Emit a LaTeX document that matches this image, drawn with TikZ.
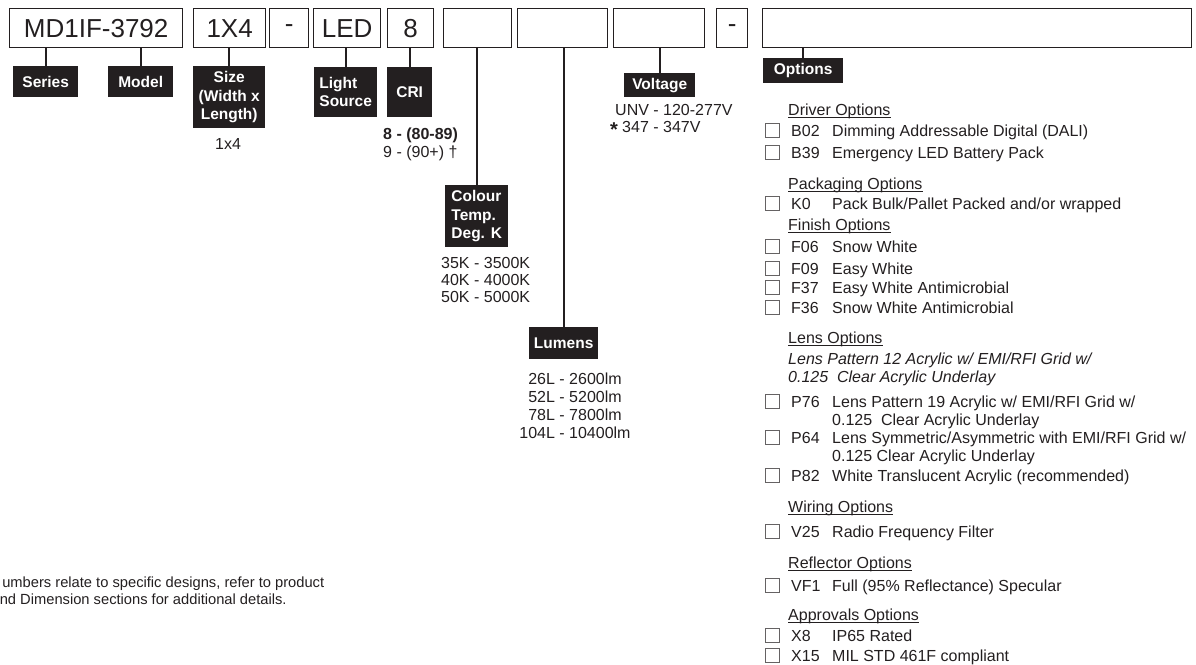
\documentclass[tikz,border=0pt]{standalone}
\usepackage{fontspec}
\setmainfont{Liberation Sans}
\definecolor{ink}{HTML}{231F20}
\tikzset{
  codebox/.style={draw=ink, line width=1.3pt, anchor=north west, inner sep=0pt, text=ink, font=\fontsize{26}{28}\selectfont},
  tag/.style={fill=ink, text=white, anchor=north west, inner sep=0pt, font=\fontsize{15.5}{18.5}\selectfont\bfseries},
  conn/.style={draw=ink, line width=1.8pt},
  txt/.style={anchor=base west, inner sep=0pt, text=ink, font=\fontsize{16}{18}\selectfont},
  ctxt/.style={anchor=base, inner sep=0pt, text=ink, font=\fontsize{16}{18}\selectfont},
  chk/.style={draw=ink!70, line width=1pt, minimum size=14pt, inner sep=0pt},
  uline/.style={draw=ink, line width=0.9pt},
}
\newcommand\optrow[4]{%
  \node[chk] (cb#1) at (772,#2) {};
  \node[txt] (code#1) at (791,#2+6) {#3};
  \node[txt] (desc#1) at (832,#2+6) {#4};
}
\newcommand\opthead[3]{%
  \node[txt] (#1) at (788,#2+6) {#3};
  \draw[uline] ([yshift=-2pt]#1.base west) -- ([yshift=-2pt]#1.base east);
}
\begin{document}
\begin{tikzpicture}[x=1pt,y=-1pt]
\useasboundingbox (0,0) rectangle (1196,664);

% code boxes
\node[codebox, minimum width=173pt, minimum height=39pt] (b1) at (9,8) {MD1IF-3792};
\node[codebox, minimum width=72pt,  minimum height=39pt] (b2) at (193,8) {1X4};
\node[codebox, minimum width=39pt,  minimum height=39pt] (b3) at (269,8) {-};
\node[codebox, minimum width=67pt,  minimum height=39pt] (b4) at (313,8) {LED};
\node[codebox, minimum width=46pt,  minimum height=39pt] (b5) at (387,8) {8};
\node[codebox, minimum width=68pt,  minimum height=39pt] (b6) at (443,8) {};
\node[codebox, minimum width=90pt,  minimum height=39pt] (b7) at (517,8) {};
\node[codebox, minimum width=91pt,  minimum height=39pt] (b8) at (613,8) {};
\node[codebox, minimum width=31pt,  minimum height=39pt] (b9) at (716,8) {-};
\node[codebox, minimum width=429pt, minimum height=39pt] (b10) at (762,8) {};

% tags
\node[tag, minimum width=65pt, minimum height=31pt] (series) at (13,66) {Series};
\node[tag, minimum width=65pt, minimum height=31pt] (model) at (108,66) {Model};
\node[tag, minimum width=72pt, minimum height=62pt, align=center] (size) at (193,66) {Size\\(Width x\\Length)};
\node[tag, minimum width=63pt, minimum height=50pt, align=left] (light) at (314,67) {Light\\Source};
\node[tag, minimum width=45pt, minimum height=50pt] (cri) at (387,67) {CRI};
\node[tag, minimum width=63pt, minimum height=62pt, align=left] (colour) at (445,185) {Colour\\Temp.\\Deg. K};
\node[tag, minimum width=69pt, minimum height=32pt] (lumens) at (529,327) {Lumens};
\node[tag, minimum width=71pt, minimum height=24pt] (voltage) at (624,73) {Voltage};
\node[tag, minimum width=80pt, minimum height=25pt] (options) at (763,58) {Options};

% connectors
\draw[conn] (b1.south -| series.north) -- (series.north);
\draw[conn] (b1.south -| model.north) -- (model.north);
\draw[conn] (b2.south -| size.north) -- (size.north);
\draw[conn] (b4.south -| light.north) -- (light.north);
\draw[conn] (b5.south -| cri.north) -- (cri.north);
\draw[conn] (b6.south -| colour.north) -- (colour.north);
\draw[conn] (b7.south -| lumens.north) -- (lumens.north);
\draw[conn] (b8.south -| voltage.north) -- (voltage.north);
\draw[conn] (b10.south -| options.north) -- (options.north);

% values
\node[ctxt] (sizev) at (228,149) {1x4};
\node[txt, font=\fontsize{16}{18}\selectfont\bfseries] (cri8) at (383,139) {8 - (80-89)};
\node[txt] (cri9) at (383,157) {9 - (90+) †};
\node[txt] (ct1) at (441,268) {35K - 3500K};
\node[txt] (ct2) at (441,285) {40K - 4000K};
\node[txt] (ct3) at (441,302) {50K - 5000K};
\node[ctxt] (lm1) at (575,384) {26L - 2600lm};
\node[ctxt] (lm2) at (575,402) {52L - 5200lm};
\node[ctxt] (lm3) at (575,420) {78L - 7800lm};
\node[ctxt] (lm4) at (575,438) {104L - 10400lm};
\node[txt] (v1) at (615,115) {UNV - 120-277V};
\node[inner sep=0pt, text=ink, font=\fontsize{20}{20}\selectfont\bfseries] (vstar) at (614,129.5) {*};
\node[txt] (v2) at (622,132) {347 - 347V};

% options list
\opthead{hdriver}{109}{Driver Options}
\optrow{b02}{130}{B02}{Dimming Addressable Digital (DALI)}
\optrow{b39}{152}{B39}{Emergency LED Battery Pack}
\opthead{hpack}{183}{Packaging Options}
\optrow{k0}{203}{K0}{Pack Bulk/Pallet Packed and/or wrapped}
\opthead{hfinish}{224}{Finish Options}
\optrow{f06}{246}{F06}{Snow White}
\optrow{f09}{268}{F09}{Easy White}
\optrow{f37}{287}{F37}{Easy White Antimicrobial}
\optrow{f36}{307}{F36}{Snow White Antimicrobial}
\opthead{hlens}{337}{Lens Options}
\node[txt, font=\fontsize{16}{18}\selectfont\itshape] (lp12a) at (788,364) {Lens Pattern 12 Acrylic w/ EMI/RFI Grid w/};
\node[txt, font=\fontsize{16}{18}\selectfont\itshape] (lp12b) at (788,382) {0.125\ \ Clear Acrylic Underlay};
\optrow{p76}{401}{P76}{Lens Pattern 19 Acrylic w/ EMI/RFI Grid w/}
\node[txt] (p76b) at (832,425) {0.125\ \ Clear Acrylic Underlay};
\optrow{p64}{437}{P64}{Lens Symmetric/Asymmetric with EMI/RFI Grid w/}
\node[txt] (p64b) at (832,461) {0.125 Clear Acrylic Underlay};
\optrow{p82}{475}{P82}{White Translucent Acrylic (recommended)}
\opthead{hwire}{506}{Wiring Options}
\optrow{v25}{531}{V25}{Radio Frequency Filter}
\opthead{hrefl}{562}{Reflector Options}
\optrow{vf1}{585}{VF1}{Full (95\% Reflectance) Specular}
\opthead{happ}{614}{Approvals Options}
\optrow{x8}{635}{X8}{IP65 Rated}
\optrow{x15}{655}{X15}{MIL STD 461F compliant}

% footnote (cut at left edge)
\node[txt, font=\fontsize{14.7}{17}\selectfont] (fn1) at (2.1,587.5) {umbers relate to specific designs, refer to product};
\node[txt, font=\fontsize{14.7}{17}\selectfont] (fn2) at (-0.4,604.5) {nd Dimension sections for additional details.};
\end{tikzpicture}
\end{document}
